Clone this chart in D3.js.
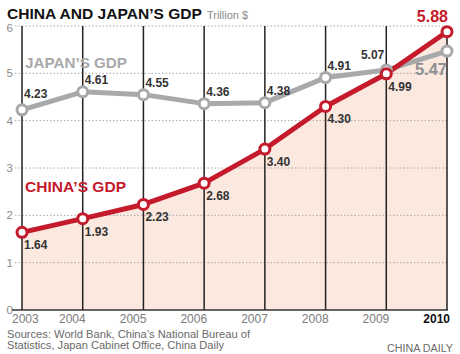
<!DOCTYPE html>
<html>
<head>
<meta charset="utf-8">
<script src="https://cdn.jsdelivr.net/npm/d3@7"></script>
<style>
  html, body { margin: 0; padding: 0; background: #fff; }
  svg { display: block; font-family: "Liberation Sans", Arial, sans-serif; }
</style>
</head>
<body>
<div id="chart"></div>
<script>
// GDP, trillion US$
const years = ['2003', '2004', '2005', '2006', '2007', '2008', '2009', '2010'];
const chinaGdp = [1.64, 1.93, 2.23, 2.68, 3.40, 4.30, 4.99, 5.88];
const japanGdp = [4.23, 4.61, 4.55, 4.36, 4.38, 4.91, 5.07, 5.47];
const yTicks = [0, 1, 2, 3, 4, 5, 6];
const sourceLines = [
  'Sources: World Bank, China\u2019s National Bureau of',
  'Statistics, Japan Cabinet Office, China Daily'
];

const RED = '#c41a2b';
const GREY = '#a7a9ab';
const FILL = '#fbe8df';

const width = 460, height = 354;

const svg = d3.select('#chart').append('svg')
  .attr('width', width)
  .attr('height', height);

const x = d3.scalePoint().domain(years).range([22, 447]);
const y = d3.scaleLinear().domain([0, 6]).range([310, 26]);

const china = years.map((yr, i) => ({ year: yr, value: chinaGdp[i], i }));
const japan = years.map((yr, i) => ({ year: yr, value: japanGdp[i], i }));

// Area under China's line
svg.append('path')
  .datum(china)
  .attr('fill', FILL)
  .attr('d', d3.area().x(d => x(d.year)).y0(y(0)).y1(d => y(d.value)));

// Dotted gridlines
svg.selectAll('.grid')
  .data(yTicks.filter(t => t > 0))
  .enter().append('line')
  .attr('x1', 15).attr('x2', x('2010'))
  .attr('y1', d => y(d)).attr('y2', d => y(d))
  .attr('stroke', '#a8a8a8')
  .attr('stroke-width', 1)
  .attr('stroke-dasharray', '1.5,2');

// Y labels
svg.selectAll('.ylab')
  .data(yTicks)
  .enter().append('text')
  .attr('x', 13).attr('y', d => y(d) + (d === 6 ? 5.5 : 4))
  .attr('text-anchor', 'end')
  .attr('fill', '#8a8a8a')
  .attr('font-size', 11.5)
  .text(d => d);

// Vertical year lines
svg.selectAll('.vline')
  .data(years)
  .enter().append('line')
  .attr('x1', d => x(d)).attr('x2', d => x(d))
  .attr('y1', y(6)).attr('y2', y(0))
  .attr('stroke', '#222')
  .attr('stroke-width', 1.5);

// Baseline
svg.append('line')
  .attr('x1', 12).attr('x2', x('2010') + 1)
  .attr('y1', y(0)).attr('y2', y(0))
  .attr('stroke', '#333')
  .attr('stroke-width', 1.5);

// Year labels
svg.selectAll('.xlab')
  .data(years)
  .enter().append('text')
  .attr('x', (d, i) => i === 0 ? x(d) - 10 : x(d) + 3)
  .attr('y', 323)
  .attr('text-anchor', (d, i) => i === 0 ? 'start' : 'end')
  .attr('fill', (d, i) => i === years.length - 1 ? '#111' : '#7a7a7a')
  .attr('font-weight', (d, i) => i === years.length - 1 ? 'bold' : 'normal')
  .attr('font-size', 12)
  .text(d => d);

const line = d3.line().x(d => x(d.year)).y(d => y(d.value));

// Japan line
svg.append('path')
  .datum(japan)
  .attr('fill', 'none')
  .attr('stroke', GREY)
  .attr('stroke-width', 5)
  .attr('stroke-linejoin', 'round')
  .attr('d', line);

// China line
svg.append('path')
  .datum(china)
  .attr('fill', 'none')
  .attr('stroke', RED)
  .attr('stroke-width', 5)
  .attr('stroke-linejoin', 'round')
  .attr('d', line);

function dots(data, color) {
  svg.append('g').selectAll('circle')
    .data(data)
    .enter().append('circle')
    .attr('cx', d => x(d.year))
    .attr('cy', d => y(d.value))
    .attr('r', 5)
    .attr('fill', '#fff')
    .attr('stroke', color)
    .attr('stroke-width', 3);
}
dots(japan, GREY);
dots(china, RED);

const last = years.length - 1;

// Japan value labels (above right)
svg.selectAll('.jlab')
  .data(japan.filter(d => d.i < last))
  .enter().append('text')
  .attr('x', d => d.i === 6 ? x(d.year) - 2 : x(d.year) + 2)
  .attr('y', d => y(d.value) + (d.i === 0 ? -12 : d.i === 6 ? -11 : -8))
  .attr('text-anchor', d => d.i === 6 ? 'end' : 'start')
  .attr('fill', '#333')
  .attr('font-weight', 'bold')
  .attr('font-size', 12)
  .text(d => d.value.toFixed(2));

// China value labels (below right)
svg.selectAll('.clab')
  .data(china.filter(d => d.i < last))
  .enter().append('text')
  .attr('x', d => x(d.year) + 2)
  .attr('y', d => y(d.value) + 17)
  .attr('fill', '#333')
  .attr('font-weight', 'bold')
  .attr('font-size', 12)
  .text(d => d.value.toFixed(2));

// 2010 big labels
svg.append('text')
  .attr('x', x('2010') + 1).attr('y', 21.5)
  .attr('text-anchor', 'end')
  .attr('fill', RED)
  .attr('font-weight', 'bold')
  .attr('font-size', 16)
  .text(chinaGdp[last].toFixed(2));

svg.append('text')
  .attr('x', x('2010')).attr('y', 75)
  .attr('text-anchor', 'end')
  .attr('fill', '#8e9092')
  .attr('font-weight', 'bold')
  .attr('font-size', 16.5)
  .text(japanGdp[last].toFixed(2));

// Series names
svg.append('text')
  .attr('x', 25).attr('y', 68)
  .attr('fill', GREY)
  .attr('font-weight', 'bold')
  .attr('font-size', 14)
  .attr('textLength', 102)
  .attr('lengthAdjust', 'spacingAndGlyphs')
  .text('JAPAN\u2019S GDP');

svg.append('text')
  .attr('x', 25).attr('y', 192)
  .attr('fill', RED)
  .attr('font-weight', 'bold')
  .attr('font-size', 14)
  .attr('textLength', 101)
  .attr('lengthAdjust', 'spacingAndGlyphs')
  .text('CHINA\u2019S GDP');

// Title
svg.append('text')
  .attr('x', 7).attr('y', 18.5)
  .attr('fill', '#111')
  .attr('font-weight', 'bold')
  .attr('font-size', 15.5)
  .attr('textLength', 195)
  .attr('lengthAdjust', 'spacingAndGlyphs')
  .text('CHINA AND JAPAN\u2019S GDP');

svg.append('text')
  .attr('x', 207).attr('y', 18.5)
  .attr('fill', '#8a8a8a')
  .attr('font-size', 10.5)
  .attr('textLength', 41)
  .attr('lengthAdjust', 'spacingAndGlyphs')
  .text('Trillion $');

// Sources
svg.selectAll('.src')
  .data(sourceLines)
  .enter().append('text')
  .attr('x', 7)
  .attr('y', (d, i) => 337.5 + i * 11.5)
  .attr('fill', '#6a6a6a')
  .attr('font-size', 11)
  .attr('textLength', (d, i) => i === 0 ? 243 : 217)
  .attr('lengthAdjust', 'spacingAndGlyphs')
  .text(d => d);

svg.append('text')
  .attr('x', 453).attr('y', 352)
  .attr('text-anchor', 'end')
  .attr('fill', '#6a6a6a')
  .attr('font-size', 10)
  .attr('textLength', 66)
  .attr('lengthAdjust', 'spacingAndGlyphs')
  .text('CHINA DAILY');
</script>
</body>
</html>
